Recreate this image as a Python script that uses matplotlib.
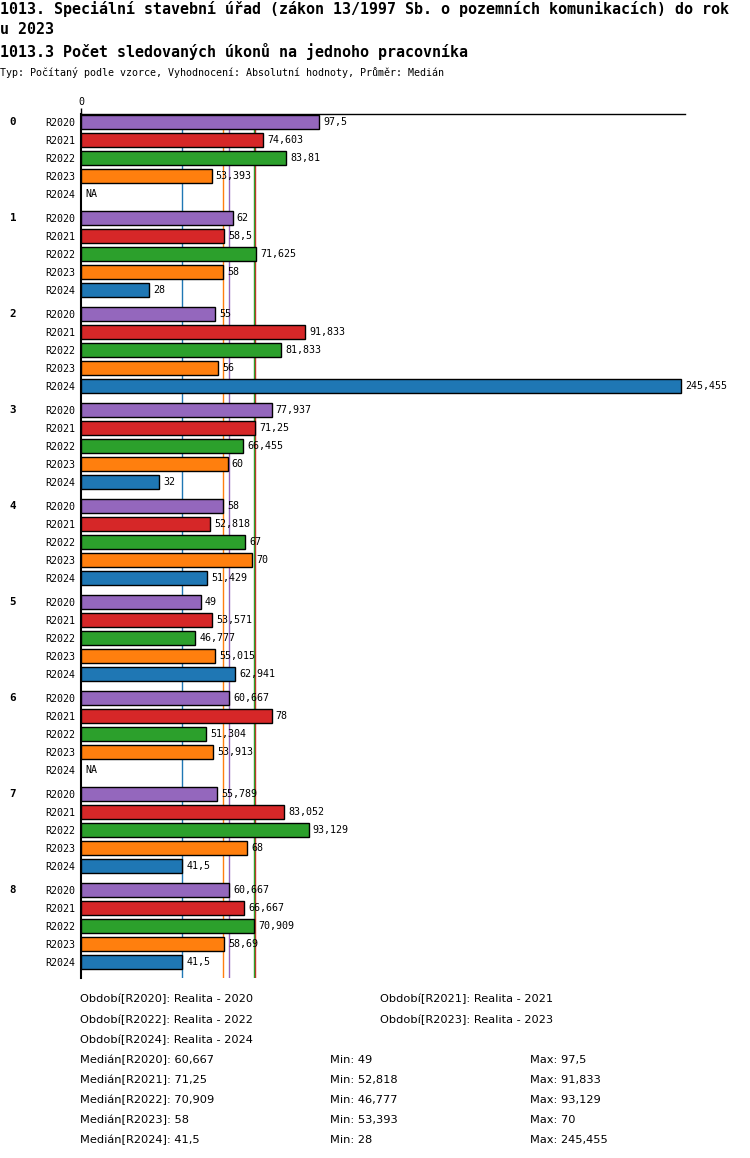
import numpy as np
import matplotlib
matplotlib.use("Agg")
import matplotlib.pyplot as plt
import matplotlib.transforms as mtransforms

# Data
groups  = ["0", "1", "2", "3", "4", "5", "6", "7", "8"]
periods = ["R2020", "R2021", "R2022", "R2023", "R2024"]
colors  = ["#9467bd", "#d62728", "#2ca02c", "#ff7f0e", "#1f77b4"]
years   = ["2020", "2021", "2022", "2023", "2024"]

r2020 = [97.5, 62, 55, 77.937, 58, 49, 60.667, 55.789, 60.667]
r2021 = [74.603, 58.5, 91.833, 71.25, 52.818, 53.571, 78, 83.052, 66.667]
r2022 = [83.81, 71.625, 81.833, 66.455, 67, 46.777, 51.304, 93.129, 70.909]
r2023 = [53.393, 58, 56, 60, 70, 55.015, 53.913, 68, 58.69]
r2024 = [np.nan, 28, 245.455, 32, 51.429, 62.941, np.nan, 41.5, 41.5]

values = np.array([r2020, r2021, r2022, r2023, r2024])  # (period, group)

title1 = "1013. Speciální stavební úřad (zákon 13/1997 Sb. o pozemních komunikacích) do rok"
title2 = "u 2023"
title3 = "1013.3 Počet sledovaných úkonů na jednoho pracovníka"
subtitle = "Typ: Počítaný podle vzorce, Vyhodnocení: Absolutní hodnoty, Průměr: Medián"


def fmt(v):
    s = f"{v:.3f}".rstrip("0").rstrip(".")
    return s.replace(".", ",")


mono = "DejaVu Sans Mono"
narrow = ["Liberation Sans Narrow", "DejaVu Sans"]

fig = plt.figure(figsize=(7.5, 11.58), dpi=100)
fig.patch.set_facecolor("white")

# titles
for txt, ypx in [(title1, 9), (title2, 30), (title3, 51)]:
    fig.text(0.0, 1 - ypx / 1158, txt, family=mono, fontsize=10.8,
             fontweight="bold", va="center")
fig.text(0.0, 1 - 73 / 1158, subtitle, family=mono, fontsize=7.2, va="center")

# main axes
ax = fig.add_axes([81 / 750, 180 / 1158, 604 / 750, 864 / 1158])
gap = 16 / 3
xmax = np.nanmax(values)
ax.set_xlim(0, xmax * 604 / 600)
ax.set_ylim(48, 0)

for p in range(len(periods)):
    ypos = np.arange(len(groups)) * gap + p + 0.444
    vals = values[p]
    ok = ~np.isnan(vals)
    ax.barh(ypos[ok], vals[ok], height=0.83, color=colors[p],
            edgecolor="black", linewidth=1.0, zorder=3)
    for y, v in zip(ypos, vals):
        if np.isnan(v):
            ax.annotate("NA", (0, y), xytext=(3, 0), textcoords="offset points",
                        va="center", ha="left", family=mono, fontsize=7.2)
        else:
            ax.annotate(fmt(v), (v, y), xytext=(3, 0), textcoords="offset points",
                        va="center", ha="left", family=mono, fontsize=7.2)

# median lines
medians = np.nanmedian(values, axis=1)
mins = np.nanmin(values, axis=1)
maxs = np.nanmax(values, axis=1)
for p in range(len(periods)):
    ax.axvline(medians[p], color=colors[p], linewidth=1.0, zorder=1)

# row labels
ticks = []
labels = []
for g in range(len(groups)):
    for p in range(len(periods)):
        ticks.append(g * gap + p + 0.444)
        labels.append(periods[p])
ax.set_yticks(ticks)
ax.set_yticklabels(labels, family=mono, fontsize=7.2)
ax.tick_params(axis="y", length=0, pad=4)

trans = mtransforms.blended_transform_factory(fig.transFigure, ax.transData)
for g, name in enumerate(groups):
    ax.text(13 / 750, g * gap + 0.444, name, transform=trans, ha="center",
            va="center", family=mono, fontsize=7.8, fontweight="bold")

ax.xaxis.tick_top()
ax.set_xticks([0])
ax.set_xticklabels(["0"], family=mono, fontsize=7.2)
ax.tick_params(axis="x", length=4, width=1, pad=1)

for side in ["right", "bottom"]:
    ax.spines[side].set_visible(False)
ax.spines["top"].set_linewidth(1.0)
ax.spines["left"].set_linewidth(1.5)

# legend / statistics text
ys = [999, 1020, 1040]
pos = [(80, ys[0]), (380, ys[0]), (80, ys[1]), (380, ys[1]), (80, ys[2])]
for p in range(len(periods)):
    x, y = pos[p]
    fig.text(x / 750, 1 - y / 1158, f"Období[{periods[p]}]: Realita - {years[p]}",
             family=narrow, fontsize=8.2, va="center")

for p in range(len(periods)):
    y = 1 - (1060 + 20 * p) / 1158
    fig.text(80 / 750, y, f"Medián[{periods[p]}]: {fmt(medians[p])}",
             family=narrow, fontsize=8.2, va="center")
    fig.text(330 / 750, y, f"Min: {fmt(mins[p])}", family=narrow, fontsize=8.2, va="center")
    fig.text(530 / 750, y, f"Max: {fmt(maxs[p])}", family=narrow, fontsize=8.2, va="center")

fig.savefig("out.png", dpi=100)
